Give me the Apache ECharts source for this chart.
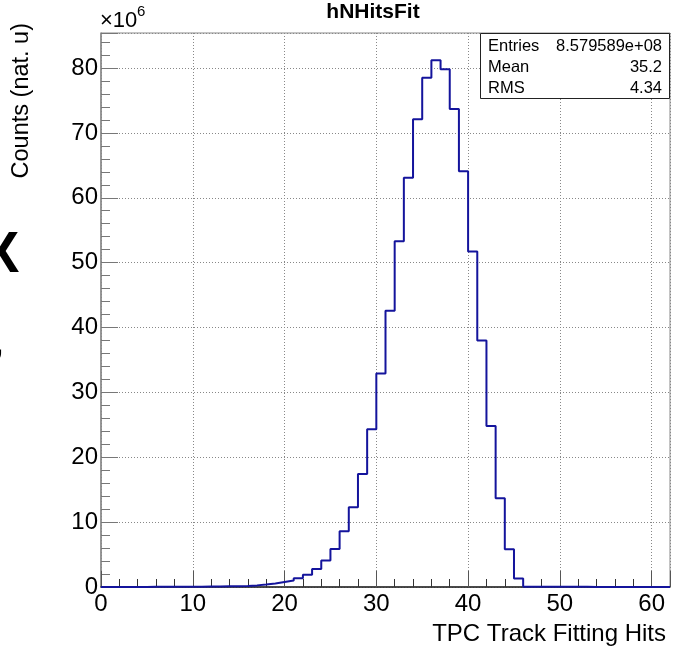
<!DOCTYPE html>
<html>
<head>
<meta charset="utf-8">
<script src="https://cdn.jsdelivr.net/npm/echarts@6/dist/echarts.min.js"></script>
<style>
html,body{margin:0;padding:0;background:#fff;}
#chart{width:673px;height:652px;}
</style>
</head>
<body>
<div id="chart"></div>
<script>
// Bin lower edges (bin width 1), values in units of 1e6 counts
const binEdges = [0,1,2,3,4,5,6,7,8,9,10,11,12,13,14,15,16,17,18,19,20,21,22,23,24,25,26,27,28,29,30,31,32,33,34,35,36,37,38,39,40,41,42,43,44,45,46,47,48,49,50,51,52,53,54,55,56,57,58,59,60,61];
const counts = [0,0,0,0,0,0.02,0.02,0.02,0.02,0.02,0.02,0.07,0.08,0.1,0.12,0.15,0.25,0.38,0.55,0.78,1.0,1.35,1.9,2.77,4.1,5.86,8.6,12.3,17.4,24.3,32.9,42.6,53.3,63.1,72.1,78.5,81.2,79.8,73.7,64.1,51.7,38.0,24.8,13.7,5.8,1.3,0.02,0.02,0.02,0.02,0.02,0.02,0.02,0,0,0,0,0,0,0,0,0];
const xTickLabels = ['0','10','20','30','40','50','60'];
const yTickLabels = ['0','10','20','30','40','50','60','70','80'];
const statsLabels = ['Entries','Mean','RMS'];
const statsValues = ['8.579589e+08','35.2','4.34'];
const chartTitle = 'hNHitsFit';
const xTitle = 'TPC Track Fitting Hits';
const yTitle = 'Counts (nat. u)';

(function(){
const xMax = 62, yMax = 85.4;
const stepData = binEdges.map((e,i)=>[e, counts[i]]);
stepData.push([xMax, counts[counts.length-1]]);

const FONT = '"Liberation Sans", Arial, Helvetica, sans-serif';
const chart = echarts.init(document.getElementById('chart'), null, {renderer:'canvas'});

const gLeft = 101, gRight = 3, gTop = 33, gBottom = 65;

const statsGraphics = [];
statsGraphics.push({type:'rect', shape:{x:480.5, y:33.5, width:189, height:65}, style:{fill:'#fff', stroke:'#222', lineWidth:1}, z:100});
statsLabels.forEach((l,i)=>{
  statsGraphics.push({type:'text', x:488, y:46+i*21.2, style:{text:l, font:'16.5px '+FONT, fill:'#000', align:'left', verticalAlign:'middle'}, z:101});
  statsGraphics.push({type:'text', x:662, y:46+i*21.2, style:{text:statsValues[i], font:'16.5px '+FONT, fill:'#000', align:'right', verticalAlign:'middle'}, z:101});
});

const option = {
  animation:false,
  backgroundColor:'#fff',
  grid:{left:gLeft, right:gRight, top:gTop, bottom:gBottom, show:true, borderColor:'#888', borderWidth:1, containLabel:false},
  xAxis:{
    type:'value', min:0, max:xMax, interval:10,
    axisLine:{show:true, onZero:false, lineStyle:{color:'#222', width:1.5}},
    axisTick:{show:true, inside:true, length:16, lineStyle:{color:'#555', width:1}},
    minorTick:{show:true, splitNumber:5, length:8, lineStyle:{color:'#333', width:1}},
    splitLine:{show:true, lineStyle:{color:'#888', type:[1,2], width:1}},
    axisLabel:{show:true, showMaxLabel:false, margin:5, color:'#000', fontSize:24, fontFamily:FONT,
      formatter:function(v){ const idx = Math.round(v/10); return (Math.abs(v-idx*10)<1e-6 && idx < xTickLabels.length) ? xTickLabels[idx] : ''; }}
  },
  yAxis:{
    type:'value', min:0, max:yMax, interval:10,
    axisLine:{show:true, onZero:false, lineStyle:{color:'#888', width:1.5}},
    axisTick:{show:true, inside:true, length:17, lineStyle:{color:'#777', width:1}},
    minorTick:{show:true, splitNumber:5, length:9, lineStyle:{color:'#777', width:1}},
    splitLine:{show:true, lineStyle:{color:'#888', type:[1,2], width:1}},
    axisLabel:{show:true, showMaxLabel:false, margin:3, color:'#000', fontSize:24, fontFamily:FONT, padding:[4,0,0,0],
      formatter:function(v){ const idx = Math.round(v/10); return (Math.abs(v-idx*10)<1e-6 && idx < yTickLabels.length) ? yTickLabels[idx] : ''; }}
  },
  series:[{
    type:'line', step:'end', data:stepData, showSymbol:false, symbol:'none',
    lineStyle:{color:'#14149c', width:2}, clip:true, z:5
  }],
  graphic:[
    {type:'text', x:373, y:12, style:{text:chartTitle, font:'bold 21px '+FONT, fill:'#000', align:'center', verticalAlign:'middle'}},
    {type:'text', x:100, y:21, style:{text:'×10', font:'22px '+FONT, fill:'#000', align:'left', verticalAlign:'middle'}},
    {type:'text', x:137, y:12, style:{text:'6', font:'15px '+FONT, fill:'#000', align:'left', verticalAlign:'middle'}},
    {type:'text', x:22, y:23, rotation:Math.PI/2, style:{text:yTitle, font:'23.5px '+FONT, fill:'#000', align:'right', verticalAlign:'middle'}},
    {type:'text', x:666, y:634, style:{text:xTitle, font:'24px '+FONT, fill:'#000', align:'right', verticalAlign:'middle'}},
    {type:'text', x:0, y:256, style:{text:'X', font:'bold 58px "Liberation Sans", sans-serif', fill:'#000', align:'center', verticalAlign:'middle'}},
    {type:'text', x:-1, y:346, style:{text:',', font:'bold 30px "Liberation Sans", sans-serif', fill:'#000', align:'center', verticalAlign:'middle'}}
  ].concat(statsGraphics)
};
chart.setOption(option);
})();
</script>
</body>
</html>
